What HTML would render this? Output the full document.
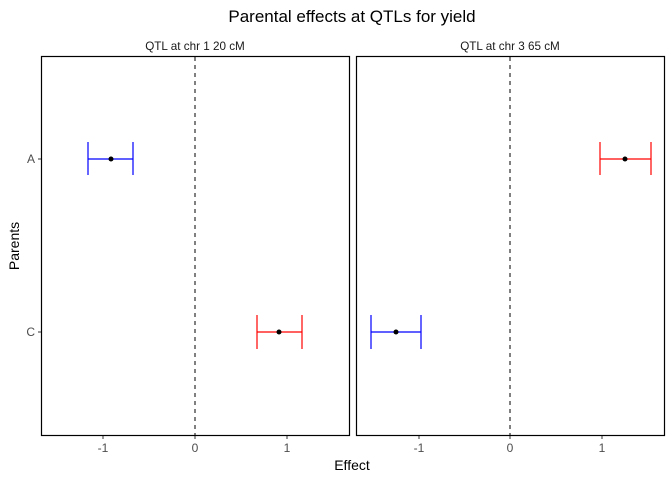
<!DOCTYPE html><html><head><style>body{margin:0;background:#fff}</style></head><body>
<svg width="672" height="480" xmlns="http://www.w3.org/2000/svg" font-family="Liberation Sans, sans-serif">
<rect width="672" height="480" fill="#fff"/>
<text x="352" y="22" font-size="17" text-anchor="middle" fill="#000">Parental effects at QTLs for yield</text>
<text x="195" y="50" font-size="11.7" text-anchor="middle" fill="#1a1a1a">QTL at chr 1 20 cM</text>
<text x="510" y="50" font-size="11.7" text-anchor="middle" fill="#1a1a1a">QTL at chr 3 65 cM</text>
<rect x="41.5" y="56.5" width="308" height="379" fill="none" stroke="#000" stroke-width="1.2"/>
<rect x="356.5" y="56.5" width="308" height="379" fill="none" stroke="#000" stroke-width="1.2"/>
<line x1="195" y1="57" x2="195" y2="435" stroke="#000" stroke-dasharray="4,4"/>
<line x1="510" y1="57" x2="510" y2="435" stroke="#000" stroke-dasharray="4,4"/>
<g stroke="#0000ff" stroke-width="1.2"><line x1="88" y1="159" x2="133" y2="159"/><line x1="88" y1="142" x2="88" y2="175"/><line x1="133" y1="142" x2="133" y2="175"/>
<line x1="371" y1="332" x2="421" y2="332"/><line x1="371" y1="315" x2="371" y2="349"/><line x1="421" y1="315" x2="421" y2="349"/></g>
<g stroke="#ff0000" stroke-width="1.2"><line x1="257" y1="332" x2="302" y2="332"/><line x1="257" y1="315" x2="257" y2="349"/><line x1="302" y1="315" x2="302" y2="349"/>
<line x1="600" y1="159" x2="651" y2="159"/><line x1="600" y1="142" x2="600" y2="175"/><line x1="651" y1="142" x2="651" y2="175"/></g>
<g fill="#000"><circle cx="111" cy="159" r="2.5"/><circle cx="279" cy="332" r="2.5"/><circle cx="396" cy="332" r="2.5"/><circle cx="625" cy="159" r="2.5"/></g>
<g stroke="#333"><line x1="38" y1="159" x2="41" y2="159"/><line x1="38" y1="332" x2="41" y2="332"/>
<line x1="103" y1="436" x2="103" y2="439"/><line x1="195" y1="436" x2="195" y2="439"/><line x1="287" y1="436" x2="287" y2="439"/>
<line x1="419" y1="436" x2="419" y2="439"/><line x1="510" y1="436" x2="510" y2="439"/><line x1="602" y1="436" x2="602" y2="439"/></g>
<g font-size="12" fill="#4d4d4d"><text x="35" y="163" text-anchor="end">A</text><text x="35" y="336" text-anchor="end">C</text>
<g text-anchor="middle"><text x="103" y="452">-1</text><text x="195" y="452">0</text><text x="287" y="452">1</text>
<text x="419" y="452">-1</text><text x="510" y="452">0</text><text x="602" y="452">1</text></g></g>
<text x="352" y="470" font-size="14" text-anchor="middle" fill="#000">Effect</text>
<text transform="translate(19,246) rotate(-90)" font-size="14" text-anchor="middle" fill="#000">Parents</text>
</svg></body></html>
